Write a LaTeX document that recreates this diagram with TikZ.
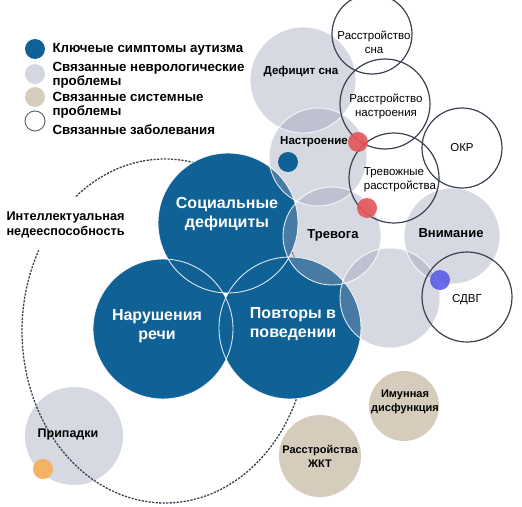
\documentclass[tikz,border=0pt]{standalone}
\usepackage{fontspec}
\setmainfont{Liberation Sans}
\definecolor{keyblue}{RGB}{15,97,150}
\definecolor{neurogray}{RGB}{155,162,184}
\definecolor{legendgray}{RGB}{212,215,225}
\definecolor{systan}{RGB}{214,204,187}
\definecolor{ringgray}{RGB}{58,66,80}
\definecolor{dotred}{RGB}{226,84,90}
\definecolor{dotviolet}{RGB}{92,92,234}
\definecolor{dotorange}{RGB}{245,178,100}
\begin{document}
\begin{tikzpicture}[x=1pt, y=-1pt,
	key/.style={circle, inner sep=0pt, fill=keyblue},
	neuro/.style={circle, inner sep=0pt, fill=neurogray, fill opacity=0.41},
	syst/.style={circle, inner sep=0pt, fill=systan},
	related/.style={circle, inner sep=0pt, draw=ringgray, line width=1.2pt},
	spot/.style={circle, inner sep=0pt, minimum size=20pt},
	rim/.style={draw=white, draw opacity=0.85, line width=0.9pt},
	keytext/.style={text=white, font=\fontsize{16}{19}\selectfont\bfseries, align=center},
	neurotext/.style={font=\fontsize{11.5}{14}\selectfont\bfseries, align=center},
	reltext/.style={font=\fontsize{11.5}{14}\selectfont, align=center},
	legendtext/.style={anchor=west, font=\fontsize{13.3}{14.5}\selectfont\bfseries, align=left}]
	\useasboundingbox (0,0) rectangle (522,506);

	% seizures sit under the dashed ring
	\node (N6) at ( 74, 436)	[neuro, minimum size=98pt]	{};
	\coordinate (ID) at (165, 331);
	\draw[ringgray, line width=1.3pt, dash pattern=on 2.2pt off 1.3pt]
		(ID) ++(231.5:143 and 172) arc[start angle=231.5, end angle=568, x radius=143, y radius=172];

	% core symptoms
	\node (K1) at (228, 223)	[key, minimum size=140pt]	{};
	\node (K2) at (163, 329)	[key, minimum size=140pt]	{};
	\node (K3) at (290, 328)	[key, minimum size=142pt]	{};

	% neurological problems
	\node (N1) at (303,  80)	[neuro, minimum size=106pt]	{};
	\node (N2) at (318, 157)	[neuro, minimum size=98pt]	{};
	\node (N3) at (332, 236)	[neuro, minimum size=98pt]	{};
	\node (N4) at (452, 236)	[neuro, minimum size=96pt]	{};
	\node (N5) at (390, 298)	[neuro, minimum size=100pt]	{};

	\draw[rim] (K1) circle[radius=70];
	\draw[rim] (K2) circle[radius=70];
	\draw[rim] (K3) circle[radius=71];
	\draw[rim] (N1) circle[radius=53];
	\draw[rim] (N2) circle[radius=49];
	\draw[rim] (N3) circle[radius=49];
	\draw[rim] (N4) circle[radius=48];
	\draw[rim] (N5) circle[radius=50];

	% systemic problems
	\node (C1) at (404, 406)	[syst, minimum size=70pt]	{};
	\node (C2) at (320, 456)	[syst, minimum size=82pt]	{};

	% related conditions
	\node (D1) at (372,  34)	[related, minimum size=80pt]	{};
	\node (D2) at (385, 104)	[related, minimum size=90pt]	{};
	\node (D3) at (462, 148)	[related, minimum size=80pt]	{};
	\node (D4) at (394, 178)	[related, minimum size=90pt]	{};
	\node (D5) at (467, 297)	[related, minimum size=90pt]	{};

	\node (S1) at (288, 162)	[spot, fill=keyblue]	{};
	\node (S2) at (358, 142)	[spot, fill=dotred, fill opacity=0.9]	{};
	\node (S3) at (367, 208)	[spot, fill=dotred, fill opacity=0.9]	{};
	\node (S4) at (440, 280)	[spot, fill=dotviolet, fill opacity=0.9]	{};
	\node (S5) at ( 43, 469)	[spot, fill=dotorange]	{};

	% labels
	\node (K1t) at (227, 214)	[keytext]	{Социальные\\дефициты};
	\node (K2t) at (157, 326)	[keytext]	{Нарушения\\речи};
	\node (K3t) at (293, 324)	[keytext]	{Повторы в\\поведении};
	\node (N1t) at (301,  72)	[neurotext]	{Дефицит сна};
	\node (N2t) at (314, 142)	[neurotext]	{Настроение};
	\node (N3t) at (333, 235)	[neurotext, font=\fontsize{13}{15}\selectfont\bfseries]	{Тревога};
	\node (N4t) at (451, 233)	[neurotext, font=\fontsize{13}{15}\selectfont\bfseries]	{Внимание};
	\node (N6t) at ( 68, 434)	[neurotext, font=\fontsize{12.5}{15}\selectfont\bfseries]	{Припадки};
	\node (C1t) at (405, 402)	[neurotext, font=\fontsize{11}{14}\selectfont\bfseries]	{Имунная\\дисфункция};
	\node (C2t) at (320, 456)	[neurotext, font=\fontsize{11}{14}\selectfont\bfseries]	{Расстройства\\ЖКТ};
	\node (D1t) at (374,  42)	[reltext]	{Расстройство\\сна};
	\node (D2t) at (386, 106)	[reltext]	{Расстройство\\настроения};
	\node (D3t) at (462, 148)	[reltext]	{ОКР};
	\node (D4t) at (400, 180)	[reltext, align=left]	{Тревожные\\расстройства};
	\node (D5t) at (467, 300)	[reltext]	{СДВГ};
	\node (IDt) at (  3, 225)	[neurotext, anchor=west, align=left, font=\fontsize{12.7}{15.5}\selectfont\bfseries]	{Интеллектуальная\\недееспособность};

	% legend
	\node (L1) at ( 35,  49)	[spot, fill=keyblue]	{};
	\node (L2) at ( 35,  74)	[spot, fill=legendgray]	{};
	\node (L3) at ( 35,  97)	[spot, fill=systan]	{};
	\node (L4) at ( 35, 121)	[spot, draw=ringgray!80, line width=1pt]	{};
	\node (L1t) at ( 49,  49)	[legendtext]	{Ключеые симптомы аутизма};
	\node (L2t) at ( 49,  75)	[legendtext]	{Связанные неврологические\\проблемы};
	\node (L3t) at ( 49, 105)	[legendtext]	{Связанные системные\\проблемы};
	\node (L4t) at ( 49, 130)	[legendtext]	{Связанные заболевания};
\end{tikzpicture}
\end{document}
